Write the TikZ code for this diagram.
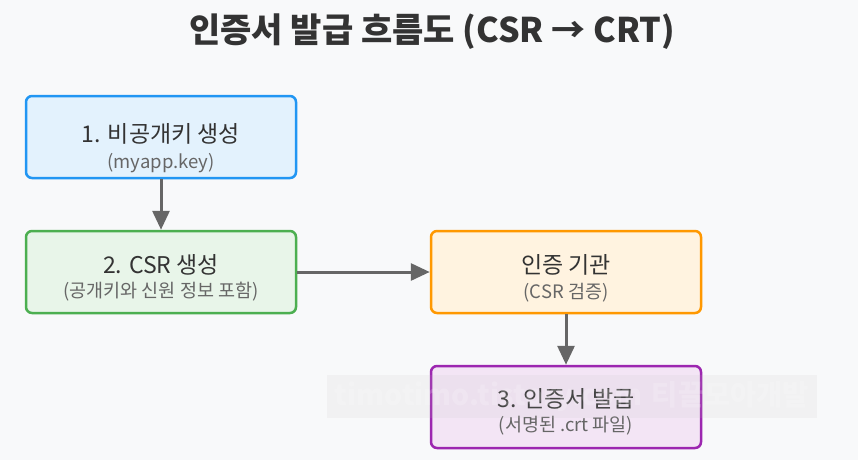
\documentclass[tikz,border=0pt]{standalone}
\usepackage{fontspec}
\setmainfont{Noto Sans CJK KR}
\usetikzlibrary{arrows.meta}
\definecolor{bg}{HTML}{F8F9FA}
\definecolor{txt}{HTML}{333333}
\definecolor{sub}{HTML}{666666}
\definecolor{arr}{HTML}{666666}
\definecolor{bfill}{HTML}{E3F2FD}\definecolor{bline}{HTML}{2196F3}
\definecolor{gfill}{HTML}{E8F5E9}\definecolor{gline}{HTML}{4CAF50}
\definecolor{ofill}{HTML}{FFF3E0}\definecolor{oline}{HTML}{FF9800}
\definecolor{pfill}{HTML}{F3E5F5}\definecolor{pline}{HTML}{9C27B0}
\tikzset{
  stepbox/.style={draw, line width=2.5pt, rounded corners=6pt, minimum width=270pt, minimum height=82pt, inner sep=0pt},
  mainlbl/.style={text=txt, font=\fontsize{23}{27}\selectfont, inner sep=0pt},
  sublbl/.style={text=sub, font=\fontsize{18.5}{22}\selectfont, inner sep=0pt},
  flow/.style={draw=arr, line width=3pt, -{Triangle[length=19pt,width=17pt]}},
}
\begin{document}
\begin{tikzpicture}[x=1pt,y=-1pt]
\fill[bg] (0,0) rectangle (858,460);
\useasboundingbox (0,0) rectangle (858,460);
\node[text=txt, font=\bfseries\fontsize{34}{38}\selectfont, inner sep=0pt] (title) at (432,32) {인증서 발급 흐름도 (CSR → CRT)};

\node[stepbox, fill=bfill, draw=bline] (b1) at (161,137) {};
\node[mainlbl] (b1m) at (161,134) {1. 비공개키 생성};
\node[sublbl] (b1s) at (161,163) {(myapp.key)};

\node[stepbox, fill=gfill, draw=gline] (b2) at (161,272) {};
\node[mainlbl] (b2m) at (161,265) {2. CSR 생성};
\node[sublbl] (b2s) at (161,292) {(공개키와 신원 정보 포함)};

\node[stepbox, fill=ofill, draw=oline] (b3) at (566,272) {};
\node[mainlbl] (b3m) at (566,265) {인증 기관};
\node[sublbl] (b3s) at (566,293) {(CSR 검증)};

\node[stepbox, fill=pfill, draw=pline] (b4) at (566,407) {};
\node[mainlbl] (b4m) at (566,399) {3. 인증서 발급};
\node[sublbl] (b4s) at (566,426) {(서명된 .crt 파일)};

\draw[flow] (b1.south) -- (b2.north);
\draw[flow] (b2.east) -- (b3.west);
\draw[flow] (b3.south) -- (b4.north);

\node[fill=black!25, fill opacity=0.12, text opacity=0.18, text=white, text width=490pt, align=center, minimum height=43pt, inner sep=0pt, font=\bfseries\fontsize{28.5}{32}\selectfont] (wm) at (572,396.5) {timotimo.tistory.com 티끌모아개발};
\end{tikzpicture}
\end{document}
